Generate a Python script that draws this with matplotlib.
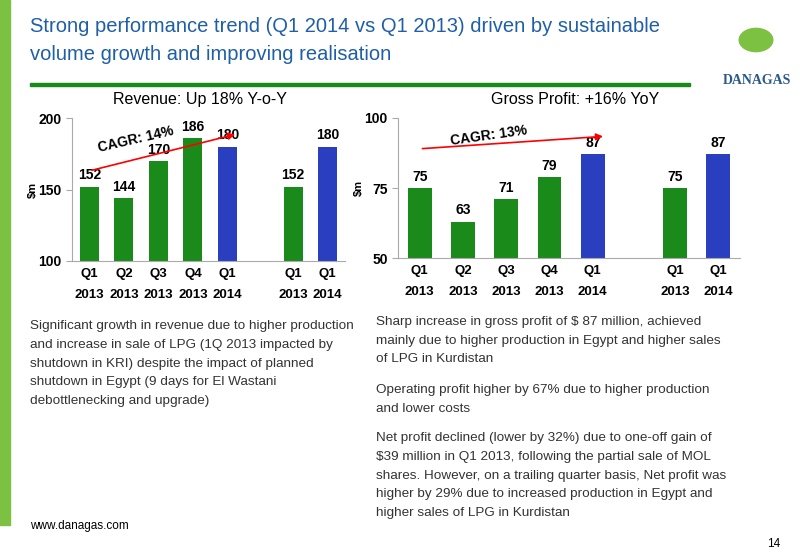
import matplotlib
matplotlib.use("Agg")
import matplotlib.pyplot as plt
from matplotlib.patches import Rectangle, Circle

plt.rcParams["font.family"] = ["Liberation Sans", "DejaVu Sans"]

# data
labels = ["Q1\n2013", "Q2\n2013", "Q3\n2013", "Q4\n2013", "Q1\n2014", "Q1\n2013", "Q1\n2014"]
xpos = [0, 1, 2, 3, 4, 5.9, 6.9]
revenue = [152, 144, 170, 186, 180, 152, 180]
gross = [75, 63, 71, 79, 87, 75, 87]
colors = ["#1a8a1a", "#1a8a1a", "#1a8a1a", "#1a8a1a", "#2a3fc0", "#1a8a1a", "#2a3fc0"]

W, H = 800, 554
fig = plt.figure(figsize=(8, 5.54), dpi=100)

def box(x0, y0, x1, y1):
    return [x0 / W, 1 - y1 / H, (x1 - x0) / W, (y1 - y0) / H]

# left stripe + title rule
fig.add_artist(Rectangle((0, 1 - 525 / H), 10 / W, 525 / H, color="#7dc142", transform=fig.transFigure))
fig.add_artist(Rectangle((30 / W, 1 - 86 / H), 660 / W, 3 / H, color="#1a8a1a", transform=fig.transFigure))
fig.text(30 / W, 1 - 26 / H, "Strong performance trend (Q1 2014 vs Q1 2013) driven by sustainable",
         color="#1f5fa8", fontsize=14.5, va="center", ha="left")
fig.text(30 / W, 1 - 55 / H, "volume growth and improving realisation",
         color="#1f5fa8", fontsize=14.5, va="center", ha="left")

# logo
fig.add_artist(Circle((756 / W, 1 - 40 / H), 0.021, color="#7dc142", transform=fig.transFigure))
fig.text(757 / W, 1 - 80 / H, "DANAGAS", color="#2a5a8a", fontsize=10, fontweight="bold",
         ha="center", va="center", family="Liberation Serif")

def draw(ax, vals, ylim, ticks, title, tx):
    ax.bar(xpos, [v - ylim[0] for v in vals], bottom=ylim[0], width=0.55, color=colors)
    ax.set_ylim(*ylim)
    ax.set_xlim(-0.5, 7.4)
    ax.set_yticks(ticks)
    ax.set_yticklabels([str(t) for t in ticks], fontsize=10, fontweight="bold")
    ax.set_xticks(xpos)
    ax.set_xticklabels(labels, fontsize=9.5, fontweight="bold", linespacing=2.0)
    ax.tick_params(axis="x", length=0, pad=5)
    ax.tick_params(axis="y", length=4, color="#aaaaaa")
    for s in ["top", "right"]:
        ax.spines[s].set_visible(False)
    ax.spines["left"].set_color("#aaaaaa")
    ax.spines["bottom"].set_color("#aaaaaa")
    ax.set_ylabel("$m", fontsize=8, fontweight="bold", labelpad=0)
    span = ylim[1] - ylim[0]
    for x, v in zip(xpos, vals):
        ax.text(x, v + span * 0.03, str(v), ha="center", va="bottom", fontsize=10, fontweight="bold")
    fig.text(tx / W, 1 - 92 / H, title, fontsize=11.5, ha="center", va="top")

ax1 = fig.add_axes(box(72, 118, 345, 261))
draw(ax1, revenue, (100, 200), [100, 150, 200], "Revenue: Up 18% Y-o-Y", 200)
ax1.annotate("", xy=(4.3, 189), xytext=(0, 163),
             arrowprops=dict(arrowstyle="-|>", color="red", lw=1.2))
ax1.text(0.2, 176, "CAGR: 14%", rotation=13, fontsize=10, fontweight="bold")

ax2 = fig.add_axes(box(398, 118, 740, 258))
draw(ax2, gross, (50, 100), [50, 75, 100], "Gross Profit: +16% YoY", 575)
ax2.annotate("", xy=(4.3, 93.5), xytext=(0, 89),
             arrowprops=dict(arrowstyle="-|>", color="red", lw=1.2))
ax2.text(0.7, 90.5, "CAGR: 13%", rotation=8, fontsize=10, fontweight="bold")

fs = 9.7
ls = 1.75
fig.text(30 / W, 1 - 320 / H,
         "Significant growth in revenue due to higher production\n"
         "and increase in sale of LPG (1Q 2013 impacted by\n"
         "shutdown in KRI) despite the impact of planned\n"
         "shutdown in Egypt (9 days for El Wastani\n"
         "debottlenecking and upgrade)",
         fontsize=fs, va="top", linespacing=ls, color="#333333")
fig.text(376 / W, 1 - 316 / H,
         "Sharp increase in gross profit of $ 87 million, achieved\n"
         "mainly due to higher production in Egypt and higher sales\n"
         "of LPG in Kurdistan",
         fontsize=fs, va="top", linespacing=ls, color="#333333")
fig.text(376 / W, 1 - 384 / H,
         "Operating profit higher by 67% due to higher production\n"
         "and lower costs",
         fontsize=fs, va="top", linespacing=ls, color="#333333")
fig.text(376 / W, 1 - 432 / H,
         "Net profit declined (lower by 32%) due to one-off gain of\n"
         "$39 million in Q1 2013, following the partial sale of MOL\n"
         "shares. However, on a trailing quarter basis, Net profit was\n"
         "higher by 29% due to increased production in Egypt and\n"
         "higher sales of LPG in Kurdistan",
         fontsize=fs, va="top", linespacing=ls, color="#333333")
fig.text(30 / W, 1 - 520 / H, "www.danagas.com", fontsize=8.5, va="top")
fig.text(780 / W, 1 - 538 / H, "14", fontsize=8.5, va="top", ha="right")

fig.savefig("out.png", dpi=100)
